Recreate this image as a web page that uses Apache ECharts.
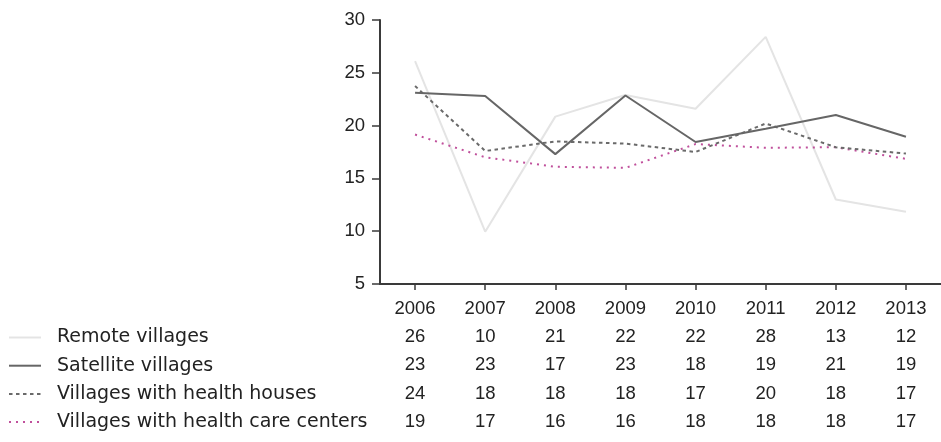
<!DOCTYPE html>
<html>
<head>
<meta charset="utf-8">
<script src="https://cdn.jsdelivr.net/npm/echarts@6/dist/echarts.min.js"></script>
<style>html,body{margin:0;padding:0;background:#fff}#c{width:941px;height:442px}</style>
</head>
<body>
<div id="c"></div>
<script>
// ---- data ----
const years = ['2006','2007','2008','2009','2010','2011','2012','2013'];
const seriesNames = ['Remote villages','Satellite villages','Villages with health houses','Villages with health care centers'];
// plotted (precise) values
const remoteLine    = [26.1, 9.95, 20.85, 22.9, 21.6, 28.4, 13.0, 11.85];
const satelliteLine = [23.1, 22.8, 17.3, 22.85, 18.45, 19.7, 21.0, 18.95];
const housesLine    = [23.75, 17.6, 18.5, 18.3, 17.5, 20.2, 17.95, 17.35];
const centersLine   = [19.15, 17.0, 16.1, 16.0, 18.25, 17.9, 17.95, 16.85];
// table values (rounded, as printed)
const remoteTable    = [26, 10, 21, 22, 22, 28, 13, 12];
const satelliteTable = [23, 23, 17, 23, 18, 19, 21, 19];
const housesTable    = [24, 18, 18, 18, 17, 20, 18, 17];
const centersTable   = [19, 17, 16, 16, 18, 18, 18, 17];
const yTicks = [5, 10, 15, 20, 25, 30];

// ---- chart ----
const numFont = '"Liberation Sans", Arial, sans-serif';
const txtFont = '"DejaVu Sans", sans-serif';
const rowGap = 28.2;
const tables = [remoteTable, satelliteTable, housesTable, centersTable];

const xAxes = [{
  type: 'category', data: years, position: 'bottom', boundaryGap: true,
  axisLine: {show: true, lineStyle: {color: '#3a3a3a', width: 2}},
  axisTick: {show: true, alignWithLabel: true, length: 6, lineStyle: {color: '#3a3a3a', width: 1.5}},
  axisLabel: {color: '#222', fontFamily: numFont, fontSize: 18.5, margin: 15.5}
}];
tables.forEach((t, k) => {
  xAxes.push({
    type: 'category', data: years, position: 'bottom', boundaryGap: true,
    offset: rowGap * (k + 1),
    axisLine: {show: false}, axisTick: {show: false}, splitLine: {show: false},
    axisLabel: {color: '#222', fontFamily: numFont, fontSize: 18.5, margin: 15.5,
      formatter: (v, i) => String(t[i])}
  });
});

const chart = echarts.init(document.getElementById('c'), null, {renderer: 'canvas'});
chart.setOption({
  animation: false,
  backgroundColor: '#fff',
  grid: {left: 380, right: -4, top: 20, bottom: 158, containLabel: false},
  xAxis: xAxes,
  yAxis: {
    type: 'value', min: yTicks[0], max: yTicks[yTicks.length - 1], interval: 5,
    axisLine: {show: true, lineStyle: {color: '#3a3a3a', width: 2}},
    axisTick: {show: true, length: 8, lineStyle: {color: '#3a3a3a', width: 1.5}},
    splitLine: {show: false},
    axisLabel: {color: '#222', fontFamily: numFont, fontSize: 18.5, margin: 15}
  },
  legend: {
    orient: 'vertical', left: 8, top: 328, padding: 0,
    itemWidth: 32, itemHeight: 14, itemGap: rowGap - 19,
    selectedMode: false,
    itemStyle: {opacity: 0},
    textStyle: {color: '#222', fontFamily: txtFont, fontSize: 19, padding: [0, 0, 0, 11]},
    data: seriesNames
  },
  series: [
    {name: seriesNames[0], type: 'line', data: remoteLine, symbol: 'none', z: 1,
      lineStyle: {color: '#e4e4e4', width: 2, type: 'solid'}, itemStyle: {color: '#e4e4e4'}},
    {name: seriesNames[1], type: 'line', data: satelliteLine, symbol: 'none', z: 4,
      lineStyle: {color: '#666666', width: 2, type: 'solid'}, itemStyle: {color: '#666666'}},
    {name: seriesNames[2], type: 'line', data: housesLine, symbol: 'none', z: 3,
      lineStyle: {color: '#6a6a6a', width: 2, type: [3.5, 3.5]}, itemStyle: {color: '#6a6a6a'}},
    {name: seriesNames[3], type: 'line', data: centersLine, symbol: 'none', z: 2,
      lineStyle: {color: '#c0509c', width: 2, type: [2, 5]}, itemStyle: {color: '#c0509c'}}
  ]
});
</script>
</body>
</html>
